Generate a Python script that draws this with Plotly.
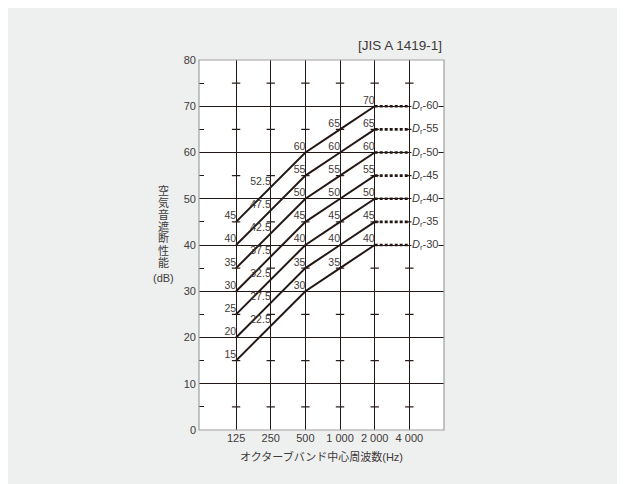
import plotly.graph_objects as go

# ---- data ----
freq_labels = ["125", "250", "500", "1 000", "2 000", "4 000"]
curve_names = ["60", "55", "50", "45", "40", "35", "30"]
curve_values = [
    [45, 52.5, 60, 65, 70],
    [40, 47.5, 55, 60, 65],
    [35, 42.5, 50, 55, 60],
    [30, 37.5, 45, 50, 55],
    [25, 32.5, 40, 45, 50],
    [20, 27.5, 35, 40, 45],
    [15, 22.5, 30, 35, 40],
]
y_ticks = [0, 10, 20, 30, 40, 50, 60, 70, 80]
minor_levels = [5, 15, 25, 35, 45, 55, 65, 75]
y_title_chars = ["空", "気", "音", "遮", "断", "性", "能"]
x_title = "オクターブバンド中心周波数(Hz)"
source_label = "[JIS A 1419-1]"

INK = "#231815"
TXT = "#3e3a39"
BORDER = "#9fa0a0"
FONT = "Liberation Sans, Arial, Noto Sans CJK JP, sans-serif"

# page offset (body margin) between screen pixels and figure pixels
OX, OY = 8, 9
W, H = 617, 476
L = 199 - OX
T = 61 - OY
R = W - (444 - OX)
B = H - (431 - OY)
PW, PH = W - L - R, H - T - B

def px_to_paper_x(px):
    return (px - OX - L) / PW

def px_to_paper_y(py):
    return (H - B - (py - OY)) / PH

xs = list(range(len(freq_labels)))
fig = go.Figure()

# minor cross ticks on vertical grid lines
cx, cy = [], []
for xi in xs:
    for lv in minor_levels:
        cx.append(xi)
        cy.append(lv)
fig.add_trace(go.Scatter(
    x=cx, y=cy, mode="markers", hoverinfo="skip", showlegend=False,
    marker=dict(symbol="line-ew", size=6, line=dict(color=INK, width=1.2)),
))

for name, vals in zip(curve_names, curve_values):
    n = len(vals)
    fig.add_trace(go.Scatter(
        x=xs[:n], y=vals, mode="lines+text",
        text=[("%g" % v) for v in vals], textposition="top left",
        textfont=dict(size=10.5, color=TXT, family=FONT),
        line=dict(color=INK, width=2), showlegend=False, hoverinfo="skip",
        cliponaxis=False,
    ))
    fig.add_trace(go.Scatter(
        x=[xs[n - 1], xs[n]], y=[vals[-1], vals[-1]], mode="lines",
        line=dict(color=INK, width=2.6, dash="3px,2px"),
        showlegend=False, hoverinfo="skip",
    ))
    fig.add_annotation(
        x=xs[n], y=vals[-1], xref="x", yref="y",
        text="<i>D</i><sub>r</sub>-" + name, showarrow=False,
        xanchor="left", yanchor="middle", xshift=2,
        bgcolor="white", borderpad=0,
        font=dict(size=11, color=TXT, family=FONT),
    )

fig.update_xaxes(
    range=[-1.07, 6], tickvals=xs, ticktext=freq_labels,
    showgrid=True, gridcolor=INK, gridwidth=1, zeroline=False,
    showline=False, ticks="", tickfont=dict(size=11, color=TXT, family=FONT),
)
fig.update_yaxes(
    range=[0, 80], tickvals=y_ticks,
    showgrid=True, gridcolor=INK, gridwidth=1, zeroline=False,
    showline=False, ticks="", ticklabelstandoff=2,
    tickfont=dict(size=11, color=TXT, family=FONT),
    minor=dict(tickvals=minor_levels, ticks="inside", ticklen=5,
               tickcolor=INK, tickwidth=1.2, showgrid=False),
    mirror="ticks",
)

# border on top of grid
fig.add_shape(type="rect", xref="paper", yref="paper", x0=0, x1=1, y0=0, y1=1,
              line=dict(color=BORDER, width=1.2), layer="above")

# y title, stacked characters
for i, ch in enumerate(y_title_chars):
    fig.add_annotation(
        x=px_to_paper_x(163), y=px_to_paper_y(192 + 11.85 * i),
        xref="paper", yref="paper", text=ch, showarrow=False,
        xanchor="center", yanchor="middle",
        font=dict(size=11, color=TXT, family=FONT),
    )
fig.add_annotation(
    x=px_to_paper_x(163), y=px_to_paper_y(279), xref="paper", yref="paper",
    text="(dB)", showarrow=False, xanchor="center", yanchor="middle",
    font=dict(size=11, color=TXT, family=FONT),
)
fig.add_annotation(
    x=px_to_paper_x(321), y=px_to_paper_y(457), xref="paper", yref="paper",
    text=x_title, showarrow=False, xanchor="center", yanchor="middle",
    font=dict(size=11, color=TXT, family=FONT),
)
fig.add_annotation(
    x=1, y=px_to_paper_y(47), xref="paper", yref="paper",
    text=source_label, showarrow=False, xanchor="right", yanchor="middle",
    font=dict(size=13.5, color=TXT, family=FONT),
)

fig.update_layout(
    width=W, height=H, margin=dict(l=L, r=R, t=T, b=B),
    paper_bgcolor="#eeefef", plot_bgcolor="white",
    font=dict(family=FONT, color=TXT), showlegend=False,
)

fig.write_html("out.html")
